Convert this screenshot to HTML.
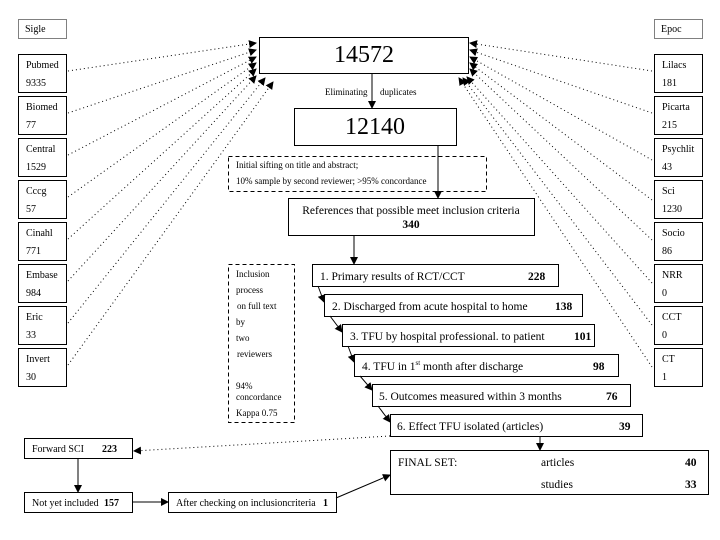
<!DOCTYPE html>
<html><head><style>
body{margin:0;background:#fff}
svg{display:block}
text{font-family:"Liberation Serif",serif;fill:#000}
.s{font-size:10px}
.b{font-weight:bold}
</style></head><body>
<svg width="720" height="540" viewBox="0 0 720 540">
<defs>
<marker id="a" markerWidth="8" markerHeight="8" refX="7" refY="4" orient="auto" markerUnits="userSpaceOnUse"><path d="M0,0 L8,4 L0,8z" fill="#000"/></marker>
</defs>
<g fill="none" stroke="#000" stroke-width="1">
<rect x="18.5" y="19.5" width="48" height="19" stroke-dasharray="1,1"/>
<rect x="654.5" y="19.5" width="48" height="19" stroke-dasharray="1,1"/>
<rect x="18.5" y="54.5" width="48" height="38"/>
<rect x="18.5" y="96.5" width="48" height="38"/>
<rect x="18.5" y="138.5" width="48" height="38"/>
<rect x="18.5" y="180.5" width="48" height="38"/>
<rect x="18.5" y="222.5" width="48" height="38"/>
<rect x="18.5" y="264.5" width="48" height="38"/>
<rect x="18.5" y="306.5" width="48" height="38"/>
<rect x="18.5" y="348.5" width="48" height="38"/>
<rect x="654.5" y="54.5" width="48" height="38"/>
<rect x="654.5" y="96.5" width="48" height="38"/>
<rect x="654.5" y="138.5" width="48" height="38"/>
<rect x="654.5" y="180.5" width="48" height="38"/>
<rect x="654.5" y="222.5" width="48" height="38"/>
<rect x="654.5" y="264.5" width="48" height="38"/>
<rect x="654.5" y="306.5" width="48" height="38"/>
<rect x="654.5" y="348.5" width="48" height="38"/>
<rect x="259.5" y="37.5" width="209" height="36"/>
<rect x="294.5" y="108.5" width="162" height="37"/>
<rect x="228.5" y="156.5" width="258" height="35" stroke-dasharray="4,3"/>
<rect x="288.5" y="198.5" width="246" height="37"/>
<rect x="228.5" y="264.5" width="66" height="158" stroke-dasharray="4,3"/>
<rect x="312.5" y="264.5" width="246" height="22"/>
<rect x="324.5" y="294.5" width="258" height="22"/>
<rect x="342.5" y="324.5" width="252" height="22"/>
<rect x="354.5" y="354.5" width="264" height="22"/>
<rect x="372.5" y="384.5" width="258" height="22"/>
<rect x="390.5" y="414.5" width="252" height="22"/>
<rect x="390.5" y="450.5" width="318" height="44"/>
<rect x="24.5" y="438.5" width="108" height="20"/>
<rect x="24.5" y="492.5" width="108" height="20"/>
<rect x="168.5" y="492.5" width="168" height="20"/>
</g>
<g stroke="#000" stroke-width="1" fill="none" stroke-dasharray="1,3">
<line x1="68" y1="71" x2="256" y2="43" marker-end="url(#a)"/>
<line x1="68" y1="113" x2="256" y2="50" marker-end="url(#a)"/>
<line x1="68" y1="155" x2="256" y2="57" marker-end="url(#a)"/>
<line x1="68" y1="197" x2="256" y2="63" marker-end="url(#a)"/>
<line x1="68" y1="239" x2="256" y2="69" marker-end="url(#a)"/>
<line x1="68" y1="281" x2="256" y2="76" marker-end="url(#a)"/>
<line x1="68" y1="323" x2="265" y2="78" marker-end="url(#a)"/>
<line x1="68" y1="365" x2="273" y2="82" marker-end="url(#a)"/>
<line x1="652" y1="71" x2="470" y2="43" marker-end="url(#a)"/>
<line x1="652" y1="113" x2="470" y2="50" marker-end="url(#a)"/>
<line x1="652" y1="160" x2="470" y2="57" marker-end="url(#a)"/>
<line x1="652" y1="200" x2="470" y2="63" marker-end="url(#a)"/>
<line x1="652" y1="240" x2="470" y2="69" marker-end="url(#a)"/>
<line x1="652" y1="283" x2="467" y2="77" marker-end="url(#a)"/>
<line x1="652" y1="325" x2="463" y2="78" marker-end="url(#a)"/>
<line x1="652" y1="367" x2="459" y2="78" marker-end="url(#a)"/>
<line x1="390" y1="436" x2="134" y2="451" marker-end="url(#a)"/>
</g>
<g stroke="#000" stroke-width="1" fill="none">
<line x1="372" y1="73" x2="372" y2="108" marker-end="url(#a)"/>
<line x1="438" y1="145" x2="438" y2="198" marker-end="url(#a)"/>
<line x1="354" y1="235" x2="354" y2="264" marker-end="url(#a)"/>
<line x1="318" y1="286" x2="324" y2="302" marker-end="url(#a)"/>
<line x1="330" y1="316" x2="342" y2="332" marker-end="url(#a)"/>
<line x1="348" y1="346" x2="354" y2="362" marker-end="url(#a)"/>
<line x1="360" y1="376" x2="372" y2="390" marker-end="url(#a)"/>
<line x1="378" y1="406" x2="390" y2="422" marker-end="url(#a)"/>
<line x1="540" y1="436" x2="540" y2="450" marker-end="url(#a)"/>
<line x1="78" y1="458" x2="78" y2="492" marker-end="url(#a)"/>
<line x1="132" y1="502" x2="168" y2="502" marker-end="url(#a)"/>
<line x1="336" y1="498" x2="390" y2="475" marker-end="url(#a)"/>
</g>
<g class="s">
<text x="25" y="32">Sigle</text>
<text x="661" y="32">Epoc</text>
<text x="26" y="68">Pubmed</text><text x="26" y="86">9335</text>
<text x="26" y="110">Biomed</text><text x="26" y="128">77</text>
<text x="26" y="152">Central</text><text x="26" y="170">1529</text>
<text x="26" y="194">Cccg</text><text x="26" y="212">57</text>
<text x="26" y="236">Cinahl</text><text x="26" y="254">771</text>
<text x="26" y="278">Embase</text><text x="26" y="296">984</text>
<text x="26" y="320">Eric</text><text x="26" y="338">33</text>
<text x="26" y="362">Invert</text><text x="26" y="380">30</text>
<text x="662" y="68">Lilacs</text><text x="662" y="86">181</text>
<text x="662" y="110">Picarta</text><text x="662" y="128">215</text>
<text x="662" y="152">Psychlit</text><text x="662" y="170">43</text>
<text x="662" y="194">Sci</text><text x="662" y="212">1230</text>
<text x="662" y="236">Socio</text><text x="662" y="254">86</text>
<text x="662" y="278">NRR</text><text x="662" y="296">0</text>
<text x="662" y="320">CCT</text><text x="662" y="338">0</text>
<text x="662" y="362">CT</text><text x="662" y="380">1</text>
<text x="325" y="95" font-size="9">Eliminating</text><text x="380" y="95" font-size="9">duplicates</text>
<text x="236" y="168" font-size="9">Initial sifting on title and abstract;</text>
<text x="236" y="184" font-size="9">10% sample  by second reviewer;  &gt;95% concordance</text>
<text x="236" y="277" font-size="9">Inclusion</text>
<text x="236" y="293" font-size="9">process</text>
<text x="237" y="309" font-size="9">on full text</text>
<text x="236" y="325" font-size="9">by</text>
<text x="236" y="341" font-size="9">two</text>
<text x="237" y="357" font-size="9">reviewers</text>
<text x="236" y="389" font-size="9">94%</text>
<text x="236" y="400" font-size="9">concordance</text>
<text x="236" y="416" font-size="9">Kappa 0.75</text>
<text x="32" y="452">Forward  SCI</text><text x="102" y="452" class="b">223</text>
<text x="32" y="506">Not yet included</text><text x="104" y="506" class="b">157</text>
<text x="176" y="506">After checking on inclusioncriteria</text><text x="323" y="506" class="b">1</text>
</g>
<text x="364" y="62" font-size="24" text-anchor="middle">14572</text>
<text x="375" y="134" font-size="24" text-anchor="middle">12140</text>
<g font-size="11.5">
<text x="411" y="214" text-anchor="middle">References that possible meet inclusion criteria</text>
<text x="411" y="228" text-anchor="middle" class="b">340</text>
<text x="320" y="280">1. Primary results of RCT/CCT</text><text x="528" y="280" class="b">228</text>
<text x="332" y="310">2. Discharged from acute hospital to home</text><text x="555" y="310" class="b">138</text>
<text x="350" y="340">3. TFU by hospital professional. to patient</text><text x="574" y="340" class="b">101</text>
<text x="362" y="370">4. TFU in 1<tspan font-size="7" dy="-5">st</tspan><tspan dy="5"> month after discharge</tspan></text><text x="593" y="370" class="b">98</text>
<text x="379" y="400">5. Outcomes measured within 3 months</text><text x="606" y="400" class="b">76</text>
<text x="397" y="430">6. Effect TFU isolated (articles)</text><text x="619" y="430" class="b">39</text>
<text x="398" y="466">FINAL SET:</text>
<text x="541" y="466">articles</text><text x="685" y="466" class="b">40</text>
<text x="541" y="488">studies</text><text x="685" y="488" class="b">33</text>
</g>
</svg>
</body></html>
